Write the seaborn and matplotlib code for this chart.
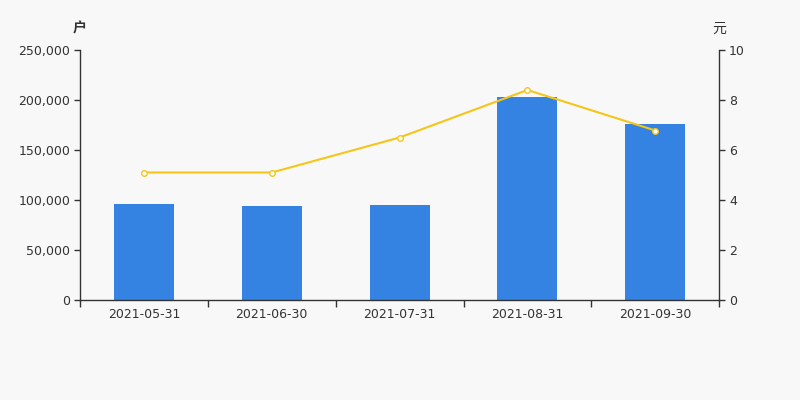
import numpy as np
import pandas as pd
import seaborn as sns
import matplotlib.pyplot as plt
from matplotlib.ticker import FuncFormatter, MultipleLocator

dates = ['2021-05-31', '2021-06-30', '2021-07-31', '2021-08-31', '2021-09-30']
holders = [96500, 94500, 95000, 203000, 176500]
avg_price = [5.1, 5.1, 6.5, 8.4, 6.78]

sns.set_theme(style='white')
plt.rcParams['font.family'] = ['DejaVu Sans', 'Noto Sans CJK SC']

bg = '#f8f8f8'
axis_col = '#333333'

df = pd.DataFrame({'date': dates, 'holders': holders, 'price': avg_price,
                   'pos': np.arange(len(dates))})

fig = plt.figure(figsize=(8, 4), dpi=100)
fig.patch.set_facecolor(bg)
ax = fig.add_axes([0.1, 0.25, 0.799, 0.625])
ax.set_facecolor(bg)

sns.barplot(data=df, x='date', y='holders', color='#3483e3', saturation=1,
            width=0.47, linewidth=0, ax=ax)
ax.set_xlim(-0.5, len(dates) - 0.5)
ax.set_ylim(0, 250000)
ax.yaxis.set_major_locator(MultipleLocator(50000))
ax.yaxis.set_major_formatter(FuncFormatter(lambda v, p: f'{int(v):,}'))
ax.set_xlabel('')
ax.set_ylabel('')

ax2 = ax.twinx()
sns.lineplot(data=df, x='pos', y='price', color='#f5c518', linewidth=1.5,
             marker='o', markersize=4, markerfacecolor='white',
             markeredgecolor='#f5c518', markeredgewidth=1, ax=ax2)
ax2.set_ylim(0, 10)
ax2.yaxis.set_major_locator(MultipleLocator(2))
ax2.set_xlim(-0.5, len(dates) - 0.5)
ax2.set_ylabel('')
ax2.set_xlabel('')

for a in (ax, ax2):
    a.spines['top'].set_visible(False)
    for s in ('left', 'right', 'bottom'):
        a.spines[s].set_color(axis_col)
        a.spines[s].set_linewidth(1)
    a.tick_params(axis='y', colors=axis_col, labelsize=9, length=4, width=1,
                  direction='out', pad=3)

ax.spines['right'].set_visible(False)
ax2.spines['left'].set_visible(False)
ax2.spines['bottom'].set_visible(False)
ax.tick_params(axis='y', left=True)
ax2.tick_params(axis='y', right=True)

ax.set_xticks(np.arange(len(dates)))
ax.set_xticklabels(dates)
ax.set_xticks(np.arange(-0.5, len(dates)), minor=True)
ax.tick_params(axis='x', which='major', length=0, pad=6, labelsize=9,
               colors=axis_col)
ax.tick_params(axis='x', which='minor', length=5, width=1, color=axis_col,
               bottom=True)

fig.text(0.1, 0.928, '户', ha='center', va='center', fontsize=10,
         color=axis_col, fontweight='bold',
         family=['Noto Sans CJK SC', 'DejaVu Sans'])
fig.text(0.899, 0.928, '元', ha='center', va='center', fontsize=10,
         color=axis_col, family=['Noto Sans CJK SC', 'DejaVu Sans'])

fig.savefig('out.png', dpi=100, facecolor=bg)
